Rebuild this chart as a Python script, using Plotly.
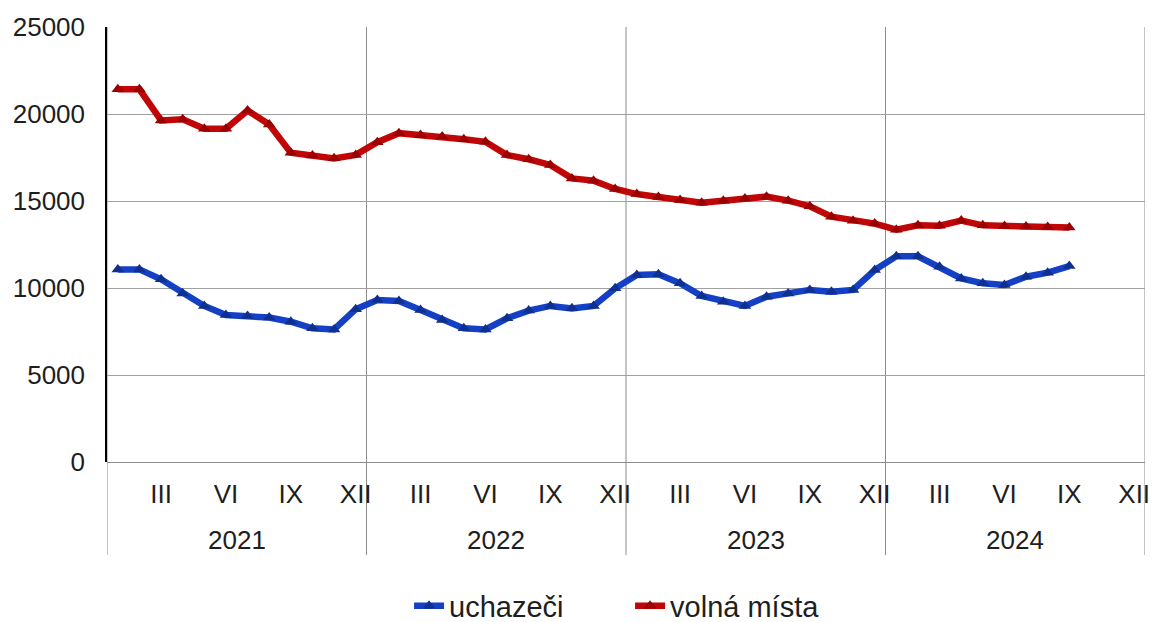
import plotly.graph_objects as go

years = ["2021", "2022", "2023", "2024"]
month_labels = ["III", "VI", "IX", "XII"]
month_label_idx = [2, 5, 8, 11]

uchazeci = [
    11070, 11070, 10500, 9690, 8970, 8450, 8390, 8300, 8060, 7680, 7620, 8780,
    9310, 9260, 8740, 8160, 7680, 7620, 8260, 8700, 8970, 8830, 8970, 9980,
    10750, 10790, 10270, 9540, 9210, 8970, 9500, 9690, 9890, 9790, 9890, 11030,
    11820, 11820, 11220, 10550, 10270, 10170, 10650, 10880, 11260,
]
volna_mista = [
    21420, 21420, 19630, 19700, 19150, 19150, 20200, 19400, 17780, 17620, 17450, 17650,
    18380, 18900, 18800, 18700, 18550, 18400, 17640, 17400, 17070, 16300, 16170, 15690,
    15400, 15230, 15060, 14900, 15020, 15150, 15250, 15020, 14700, 14100, 13870, 13700,
    13350, 13600, 13580, 13880, 13600, 13570, 13540, 13510, 13480,
]

x_idx = list(range(len(uchazeci)))
n_months = 12 * len(years)

font_family = "Liberation Sans, Arial, sans-serif"
txt = "#1e1e1e"

fig = go.Figure()
fig.add_trace(go.Scatter(
    x=x_idx, y=uchazeci, name="uchazeči", mode="lines+markers",
    line=dict(color="#1340c4", width=6.5),
    marker=dict(symbol="triangle-up", size=11, color="#10308f"),
))
fig.add_trace(go.Scatter(
    x=x_idx, y=volna_mista, name="volná místa", mode="lines+markers",
    line=dict(color="#c00606", width=6.5),
    marker=dict(symbol="triangle-up", size=11, color="#9a0000"),
))

tickvals = [12 * y + m for y in range(len(years)) for m in month_label_idx]
ticktext = [month_labels[k] for y in range(len(years)) for k in range(len(month_labels))]

shapes = []
for b in range(len(years) + 1):
    shapes.append(dict(type="line", xref="x", yref="paper",
                       x0=12 * b - 0.5, x1=12 * b - 0.5, y0=-0.214, y1=1,
                       line=dict(color="#8c8c8c", width=1), layer="below"))

annotations = []
for i, yr in enumerate(years):
    annotations.append(dict(x=12 * i + 5.5, y=-0.18, xref="x", yref="paper",
                            yanchor="middle", xanchor="center",
                            text=yr, showarrow=False,
                            font=dict(size=26, color=txt, family=font_family)))

fig.update_layout(
    width=1152, height=622,
    margin=dict(l=107, r=7, t=27, b=160, autoexpand=False),
    paper_bgcolor="white", plot_bgcolor="white",
    font=dict(family=font_family, size=26, color=txt),
    showlegend=True,
    legend=dict(orientation="h", x=0.291, xanchor="left", y=-0.331, yanchor="middle",
                font=dict(size=29, color=txt), tracegroupgap=0,
                entrywidth=176, entrywidthmode="pixels"),
    shapes=shapes, annotations=annotations,
)
fig.update_xaxes(
    range=[-0.5, n_months - 0.5], tickmode="array", tickvals=tickvals, ticktext=ticktext,
    showgrid=False, zeroline=False, showline=False, ticks="", automargin=False,
    ticklabelstandoff=14, ticklabeloverflow="allow", tickfont=dict(size=26, color=txt),
)
fig.update_yaxes(
    range=[0, 25000], tickvals=[0, 5000, 10000, 15000, 20000, 25000], tickformat="d",
    showgrid=True, gridcolor="#a0a0a0", gridwidth=1,
    zeroline=True, zerolinecolor="#8c8c8c", zerolinewidth=1,
    showline=True, linecolor="black", linewidth=1.5, automargin=False,
    ticks="", ticklabelstandoff=15, tickfont=dict(size=26, color=txt),
)

fig.write_html(
    "out.html",
    config={"displayModeBar": False},
    post_script="document.body.style.margin='0';document.documentElement.style.overflow='hidden';",
)
